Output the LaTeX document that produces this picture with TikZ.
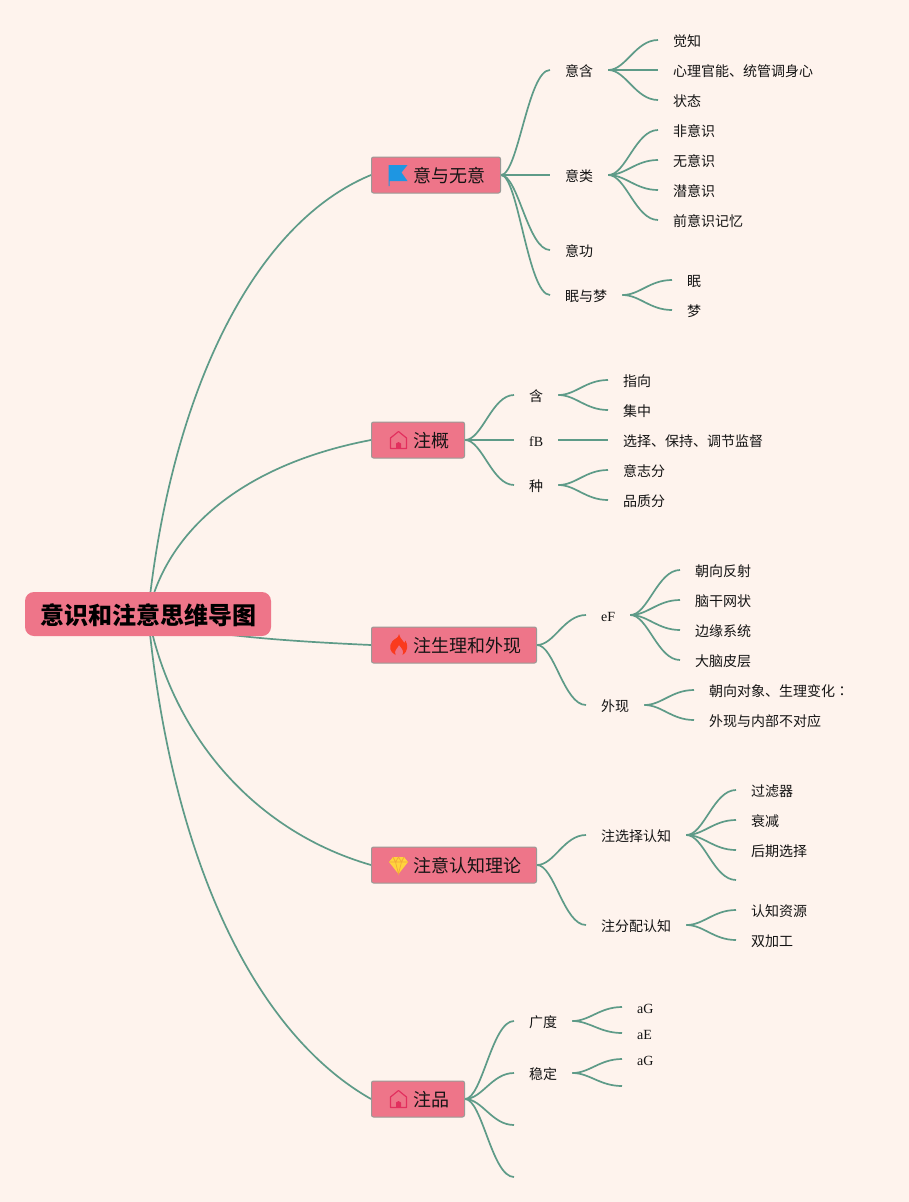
\documentclass[tikz,border=0pt]{standalone}
\usepackage{fontspec}
\setmainfont{Liberation Serif}
\newfontfamily\cjk{Noto Sans CJK SC}
\newfontfamily\cjktc{Noto Sans CJK TC}
\usetikzlibrary{calc,backgrounds}
\definecolor{pagebg}{HTML}{FEF3ED}
\definecolor{linkc}{HTML}{5E9B88}
\definecolor{topicfill}{HTML}{EE7589}
\definecolor{topicedge}{HTML}{9A9A96}
\definecolor{inkc}{HTML}{141414}
\definecolor{flagc}{HTML}{1E96E2}
\definecolor{housec}{HTML}{E2305E}
\definecolor{flamec}{HTML}{FA3A1E}
\definecolor{gemc}{HTML}{FFD43C}
\definecolor{gemd}{HTML}{F2A93A}
\tikzset{
  leafnode/.style={anchor=west,inner xsep=15pt,inner ysep=0pt,text height=12pt,text depth=0pt,text=inkc,font=\fontsize{14}{14}\selectfont\cjk},
  latinnode/.style={leafnode,font=\fontsize{14}{14}\selectfont},
  topicnode/.style={anchor=west,draw=topicedge,line width=1pt,fill=topicfill,rounded corners=2pt,inner xsep=15pt,inner ysep=0pt,minimum height=36pt,text height=15pt,text depth=0pt,text=inkc,font=\fontsize{18}{18}\selectfont\cjk},
  rootnode/.style={fill=topicfill,rounded corners=9pt,minimum width=246pt,minimum height=44pt,inner sep=0pt,text height=20pt,text depth=0pt,text=black,font=\fontsize{24}{24}\selectfont\cjk\bfseries},
  linkline/.style={draw=linkc,line width=1.7pt},
  flagicon/.pic={
    \fill[flagc] (-9.5,-10) -- (9.5,-10) -- (3.5,-2.5) -- (9.5,6) -- (-8.5,6) -- (-8.5,11) -- (-9.5,11) -- cycle;
  },
  houseicon/.pic={
    \draw[housec,line width=1.2pt,line join=round] (-8,-2) -- (0,-8.5) -- (8,-2) -- (8,8.5) -- (-8,8.5) -- cycle;
    \fill[housec] (-2.5,8.5) -- (-2.5,3.5) -- (0,2) -- (2.5,3.5) -- (2.5,8.5) -- cycle;
  },
  flameicon/.pic={
    \fill[flamec] (0.5,-11) .. controls (2,-5) and (5,-5) .. (6,-2)
      .. controls (6.5,-3) and (7,-3.5) .. (7,-4.5)
      .. controls (9.5,0) and (10,6) .. (4,10)
      .. controls (6,6) and (3,3) .. (0.5,0)
      .. controls (-0.5,3) and (-5,5) .. (-3,10)
      .. controls (-9,7) and (-10,1) .. (-6,-4)
      .. controls (-3,-7) and (0,-7) .. (0.5,-11) -- cycle;
  },
  gemicon/.pic={
    \fill[gemc] (-5.5,-8) -- (5.5,-8) -- (9.5,-3) -- (0,9) -- (-9.5,-3) -- cycle;
    \draw[gemd,line width=0.7pt] (-9.5,-3) -- (9.5,-3) (-3,-3) -- (0,9) -- (3,-3) (-5.5,-8) -- (-3,-3) -- (0,-8) -- (3,-3) -- (5.5,-8);
  },
}
\newcommand{\linkto}[2]{%
  \path[linkline] let \p1=(#1),\p2=(#2) in (\p1) .. controls ({\x1+0.35*(\x2-\x1)},\y1) and ({\x1+0.55*(\x2-\x1)},\y2) .. (\p2);}
\begin{document}
\begin{tikzpicture}[x=1pt,y=-1pt]
\useasboundingbox (0,0) rectangle (909,1202);
% root and topics
\node[rootnode] (root) at (148,614) {意识和注意思维导图};
\node[topicnode] (t1) at (371,175) {\hspace*{27pt}意与无意};
\node[topicnode] (t2) at (371,440) {\hspace*{27pt}注概};
\node[topicnode] (t3) at (371,645) {\hspace*{27pt}注生理和外现};
\node[topicnode] (t4) at (371,865) {\hspace*{27pt}注意认知理论};
\node[topicnode] (t5) at (371,1099) {\hspace*{27pt}注品};
\pic at (398,175) {flagicon};
\pic at (398.5,440) {houseicon};
\pic at (398.5,645) {flameicon};
\pic at (398.5,865) {gemicon};
\pic at (398.5,1099) {houseicon};
% topic 1
\node[leafnode] (a1) at (550,70) {意含};
\node[leafnode] (a2) at (550,175) {意类};
\node[leafnode] (a3) at (550,250) {意功};
\node[leafnode] (a4) at (550,295) {眠与梦};
\node[leafnode] (a11) at (658,40) {觉知};
\node[leafnode] (a12) at (658,70) {心理官能、统管调身心};
\node[leafnode] (a13) at (658,100) {状态};
\node[leafnode] (a21) at (658,130) {非意识};
\node[leafnode] (a22) at (658,160) {无意识};
\node[leafnode] (a23) at (658,190) {潜意识};
\node[leafnode] (a24) at (658,220) {前意识记忆};
\node[leafnode] (a41) at (672,280) {眠};
\node[leafnode] (a42) at (672,310) {梦};
% topic 2
\node[leafnode] (b1) at (514,395) {含};
\node[latinnode] (b2) at (514,440) {fB};
\node[leafnode] (b3) at (514,485) {种};
\node[leafnode] (b11) at (608,380) {指向};
\node[leafnode] (b12) at (608,410) {集中};
\node[leafnode] (b21) at (608,440) {选择、保持、调节监督};
\node[leafnode] (b31) at (608,470) {意志分};
\node[leafnode] (b32) at (608,500) {品质分};
% topic 3
\node[latinnode] (c1) at (586,615) {eF};
\node[leafnode] (c2) at (586,705) {外现};
\node[leafnode] (c11) at (680,570) {朝向反射};
\node[leafnode] (c12) at (680,600) {脑干网状};
\node[leafnode] (c13) at (680,630) {边缘系统};
\node[leafnode] (c14) at (680,660) {大脑皮层};
\node[leafnode] (c21) at (694,690) {朝向对象、生理变化{\cjktc ：}};
\node[leafnode] (c22) at (694,720) {外现与内部不对应};
% topic 4
\node[leafnode] (d1) at (586,835) {注选择认知};
\node[leafnode] (d2) at (586,925) {注分配认知};
\node[leafnode] (d11) at (736,790) {过滤器};
\node[leafnode] (d12) at (736,820) {衰减};
\node[leafnode] (d13) at (736,850) {后期选择};
\coordinate (d14) at (736,880);
\node[leafnode] (d21) at (736,910) {认知资源};
\node[leafnode] (d22) at (736,940) {双加工};
% topic 5
\node[leafnode] (e1) at (514,1021) {广度};
\node[leafnode] (e2) at (514,1073) {稳定};
\coordinate (e3) at (514,1125);
\coordinate (e4) at (514,1177);
\node[latinnode] (e11) at (622,1007) {aG};
\node[latinnode] (e12) at (622,1033) {aE};
\node[latinnode] (e21) at (622,1059) {aG};
\coordinate (e22) at (622,1086);
\begin{pgfonlayer}{background}
\fill[pagebg] (0,0) rectangle (909,1202);
% root links
\draw[linkline] (root.center) .. controls (170,400) and (250,225) .. (t1.west);
\draw[linkline] (root.center) .. controls (168,525) and (250,463) .. (t2.west);
\draw[linkline] (root.center) .. controls (170,632) and (260,640) .. (t3.west);
\draw[linkline] (root.center) .. controls (170,730) and (250,830) .. (t4.west);
\draw[linkline] (root.center) .. controls (170,850) and (250,1030) .. (t5.west);
% branch links
\foreach \k in {a1,a2,a3,a4} {\linkto{t1.east}{\k.west}}
\foreach \k in {a11,a12,a13} {\linkto{a1.east}{\k.west}}
\foreach \k in {a21,a22,a23,a24} {\linkto{a2.east}{\k.west}}
\foreach \k in {a41,a42} {\linkto{a4.east}{\k.west}}
\foreach \k in {b1,b2,b3} {\linkto{t2.east}{\k.west}}
\foreach \k in {b11,b12} {\linkto{b1.east}{\k.west}}
\linkto{b2.east}{b21.west}
\foreach \k in {b31,b32} {\linkto{b3.east}{\k.west}}
\foreach \k in {c1,c2} {\linkto{t3.east}{\k.west}}
\foreach \k in {c11,c12,c13,c14} {\linkto{c1.east}{\k.west}}
\foreach \k in {c21,c22} {\linkto{c2.east}{\k.west}}
\foreach \k in {d1,d2} {\linkto{t4.east}{\k.west}}
\foreach \k in {d11,d12,d13} {\linkto{d1.east}{\k.west}}
\linkto{d1.east}{d14}
\foreach \k in {d21,d22} {\linkto{d2.east}{\k.west}}
\foreach \k in {e1,e2} {\linkto{t5.east}{\k.west}}
\linkto{t5.east}{e3}
\linkto{t5.east}{e4}
\foreach \k in {e11,e12} {\linkto{e1.east}{\k.west}}
\linkto{e2.east}{e21.west}
\linkto{e2.east}{e22}
\end{pgfonlayer}
\end{tikzpicture}
\end{document}
